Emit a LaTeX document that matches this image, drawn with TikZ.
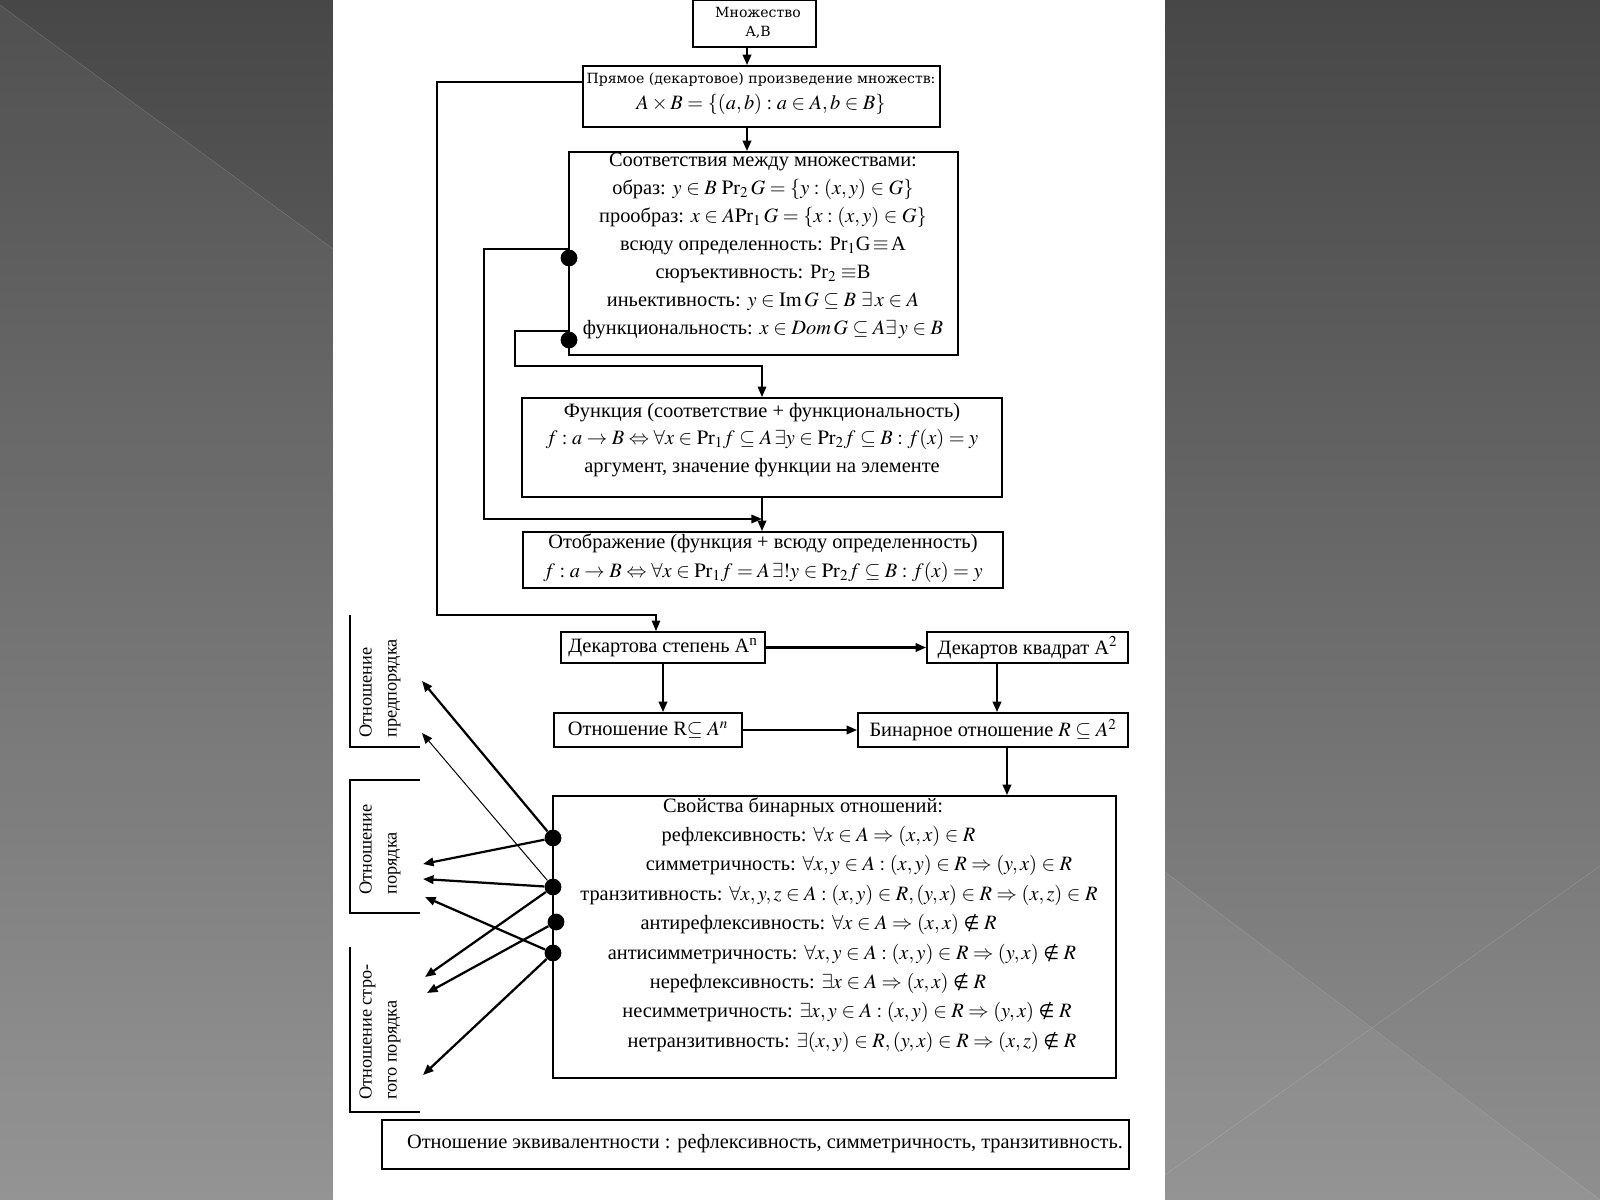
\documentclass[tikz,border=0pt]{standalone}
\usepackage{mathptmx}
\usepackage{fontspec}
\setmainfont{Liberation Serif}
\newfontfamily\widefont{DejaVu Serif}
\newfontfamily\symfont{DejaVu Sans}
\usetikzlibrary{arrows.meta,fit,positioning}
\definecolor{bgtop}{HTML}{474747}
\definecolor{bgbot}{HTML}{8F8F8F}
\tikzset{
  box/.style={draw, line width=1.2pt, inner sep=0pt},
  txt/.style={align=center, inner sep=0pt, font=\fontsize{14.5}{20.5}\selectfont},
  side/.style={rotate=90, anchor=west, align=left, inner sep=0pt, font=\fontsize{13}{17.8}\selectfont},
  arr/.style={line width=1.6pt, -{Triangle[length=7.5pt,width=6pt]}},
  dot/.style={circle, fill, inner sep=0pt, minimum size=0.42cm},
}
\newcommand\sh[2]{\hspace*{#1}#2\hspace*{-#1}}
\newcommand\nin{\mathrel{\hbox{\symfont\fontsize{13}{15}\selectfont ∉}}}
\begin{document}
\begin{tikzpicture}[x=0.025cm, y=-0.025cm]
  \useasboundingbox (0,0) rectangle (1600,1200);
  % background
  \shade[top color=bgtop, bottom color=bgbot] (0,0) rectangle (1600,1200);
  \fill[white, opacity=0.05] (0,5) -- (333,249) -- (333,1200) -- (0,1200) -- cycle;
  \fill[white, opacity=0.05] (1165,872) -- (1372,1029) -- (1165,1175) -- cycle;
  \fill[white, opacity=0.05] (1165,1175) -- (1372,1029) -- (1600,1200) -- (1165,1200) -- cycle;
  \draw[white, opacity=0.15, line width=0.4pt] (0,5) -- (333,249) (1165,872) -- (1600,1200) (1165,1175) -- (1600,866);
  \fill[white] (333,0) rectangle (1165,1200);

  % upper chain
  \node[box, fit={(693,0) (816,47)}] (set) {};
  \node[txt, font=\widefont\fontsize{10}{13.5}\selectfont] (set-t) at (758,23) {Множество\\А,В};
  \node[box, fit={(583,66) (940,127)}] (prod) {};
  \node[txt, font=\widefont\fontsize{10}{12}\selectfont] (prod-a) at (761,80) {Прямое (декартовое) произведение множеств:};
  \node[txt] (prod-b) at (761,104) {$A\times B=\{(a,b):a\in A,b\in B\}$};
  \node[box, fit={(569,152) (958,355)}] (corr) {};
  \node[txt, font=\fontsize{14.5}{19.9}\selectfont] (corr-t) at (763,246) {Соответствия между множествами:\\
    образ: $y\in B\ \mathrm{Pr}_2\,G=\{y:(x,y)\in G\}$\\
    прообраз: $x\in A\mathrm{Pr}_1\,G=\{x:(x,y)\in G\}$\\
    всюду определенность: Pr$_1$G$\,\equiv\,$A\\
    сюръективность: Pr$_2\equiv$B\\
    иньективность: $y\in\mathrm{Im}\,G\subseteq B\ \exists\,x\in A$\\
    функциональность: $x\in \mathit{Dom}\,G\subseteq A\exists\,y\in B$};
  \node[box, fit={(522,398) (1002,497)}] (fun) {};
  \node[txt, font=\fontsize{14.5}{19.6}\selectfont] (fun-t) at (762,440) {Функция (соответствие + функциональность)\\
    $f:a\to B\Leftrightarrow\forall x\in\mathrm{Pr}_1 f\subseteq A\,\exists y\in\mathrm{Pr}_2 f\subseteq B: f(x)=y$\\
    аргумент, значение функции на элементе};
  \node[box, fit={(523,532) (1003,588)}] (map) {};
  \node[txt] (map-t) at (763,558) {Отображение (функция + всюду определенность)\\
    $f:a\to B\Leftrightarrow\forall x\in\mathrm{Pr}_1 f=A\,\exists!y\in\mathrm{Pr}_2 f\subseteq B: f(x)=y$};

  % lower chain
  \node[box, fit={(561,632) (765,663)}] (deg) {};
  \node[txt] (deg-t) at (deg) {Декартова степень A\textsuperscript{n}};
  \node[box, fit={(927,632) (1128,663)}] (sq) {};
  \node[txt] (sq-t) at (sq) {Декартов квадрат A$^2$};
  \node[box, fit={(554,713) (742,747)}] (rel) {};
  \node[txt] (rel-t) at (rel) {Отношение R$\subseteq A^{n}$};
  \node[box, fit={(858,713) (1128,747)}] (bin) {};
  \node[txt] (bin-t) at (bin) {Бинарное отношение $R\subseteq A^2$};
  \node[box, fit={(553,796) (1116,1078)}] (prop) {};
  \node[txt, font=\fontsize{14.5}{20.9}\selectfont] (prop-t) at (834,925) {\sh{-22pt}{Свойства бинарных отношений:}\\
    \sh{-22pt}{рефлексивность: $\forall x\in A\Rightarrow(x,x)\in R$}\\
    \sh{35.6pt}{симметричность: $\forall x,y\in A:(x,y)\in R\Rightarrow(y,x)\in R$}\\
    \sh{7pt}{транзитивность: $\forall x,y,z\in A:(x,y)\in R,(y,x)\in R\Rightarrow(x,z)\in R$}\\
    \sh{-22pt}{антирефлексивность: $\forall x\in A\Rightarrow(x,x)\nin R$}\\
    \sh{11.4pt}{антисимметричность: $\forall x,y\in A:(x,y)\in R\Rightarrow(y,x)\nin R$}\\
    \sh{-22.8pt}{нерефлексивность: $\exists x\in A\Rightarrow(x,x)\nin R$}\\
    \sh{18.5pt}{несимметричность: $\exists x,y\in A:(x,y)\in R\Rightarrow(y,x)\nin R$}\\
    \sh{12.8pt}{нетранзитивность: $\exists(x,y)\in R,(y,x)\in R\Rightarrow(x,z)\nin R$}};
  \node[box, fit={(382,1120) (1129,1169)}] (eqv) {};
  \node[txt] (eqv-t) at (765,1144) {Отношение эквивалентности : рефлексивность, симметричность, транзитивность.};

  % side labels
  \node[side] (pre-t) at (380,738) {Отношение\\предпорядка};
  \node[side] (ord-t) at (380,895) {Отношение\\порядка};
  \node[side] (str-t) at (380,1100) {Отношение стро-\\гого порядка};
  \draw[line width=0.8pt] (350,615) |- (420,747);
  \draw[line width=0.8pt] (420,780) -| (350,913) -- (420,913);
  \draw[line width=0.8pt] (350,947) |- (420,1112);

  % connectors
  \coordinate (ax) at (747,0);
  \draw[arr] (ax |- set.south) -- (ax |- prod.north);
  \draw[arr] (ax |- prod.south) -- (ax |- corr.north);
  \coordinate (lt) at (437,82);
  \coordinate (lb) at (656,615);
  \draw[arr, line width=1pt] (lt -| prod.west) -- (lt) |- (lb) -- (lb |- deg.north);
  \node[dot] (d1) at (569,258) {};
  \node[dot] (d2) at (569,340) {};
  \coordinate (k1) at (484,519);
  \coordinate (k2) at (515,366);
  \draw[arr, line width=1.3pt] (d1.north) -| (k1) -- (k1 -| fun.south);
  \draw[arr, line width=1.3pt] (d2.north) -| (k2) -| (fun.north);
  \draw[arr] (fun.south) -- (fun.south |- map.north);
  \draw[arr] (deg.east) -- (sq.west);
  \draw[arr] (deg.south) -- (deg.south |- rel.north);
  \coordinate (bx) at (997,0);
  \draw[arr] (bx |- sq.south) -- (bx |- bin.north);
  \draw[arr] (rel.east) -- (bin.west);
  \coordinate (cx) at (1007,0);
  \draw[arr] (cx |- bin.south) -- (cx |- prop.north);

  \node[dot] (dA) at (553,838) {};
  \node[dot] (dB) at (553,887) {};
  \node[dot] (dC) at (556,922) {};
  \node[dot] (dD) at (553,953) {};
  \coordinate (t1) at (422,681);
  \coordinate (t2) at (422,733);
  \coordinate (t3) at (423,864);
  \coordinate (t4) at (423,879);
  \coordinate (t5) at (425,897);
  \coordinate (t6) at (425,977);
  \coordinate (t7) at (427,993);
  \coordinate (t8) at (423,1075);
  \draw[arr] (dA) -- (t1);
  \draw[arr] (dA) -- (t3);
  \draw[arr, line width=0.7pt] (dB) -- (t2);
  \draw[arr] (dB) -- (t4);
  \draw[arr] (dB) -- (t6);
  \draw[arr] (dC) -- (t7);
  \draw[arr] (dD) -- (t5);
  \draw[arr] (dD) -- (t8);
\end{tikzpicture}
\end{document}
